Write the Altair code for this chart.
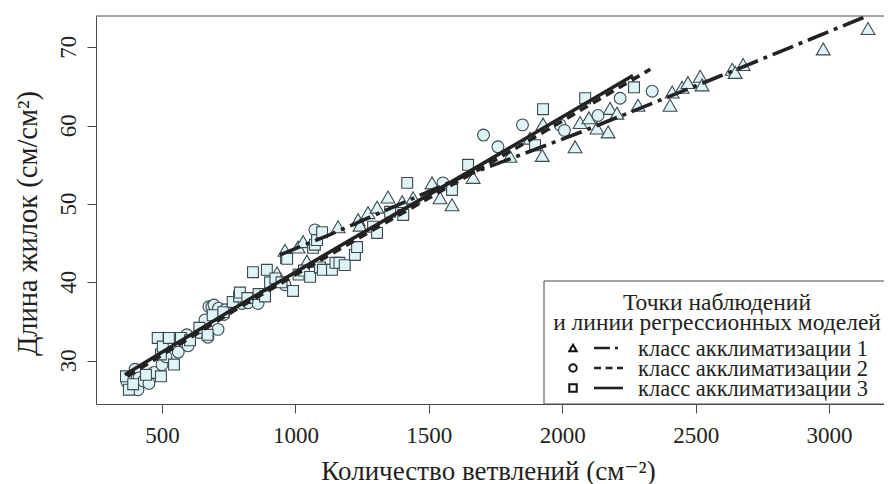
import altair as alt
import pandas as pd

# ---------------- data ----------------
# class 1 (triangles)
c1_x = [931, 961, 1010, 1029, 1043, 1160, 1235, 1242, 1272, 1306, 1347, 1400, 1441,
        1512, 1542, 1587, 1666, 1804, 1879, 1925, 1928, 2048, 2067, 2100, 2130, 2172,
        2179, 2205, 2284, 2404, 2412, 2449, 2471, 2517, 2524, 2637, 2648, 2678, 2978, 3146]
c1_y = [41.2, 44.1, 44.5, 45.2, 42.7, 47.1, 48.0, 47.3, 48.9, 49.6, 50.9, 50.3, 50.8,
        52.7, 50.8, 49.9, 53.4, 56.1, 58.4, 56.2, 60.2, 57.3, 60.4, 61.0, 59.7, 59.2,
        62.2, 61.6, 62.6, 62.6, 64.3, 64.9, 65.5, 66.3, 65.2, 67.2, 66.8, 67.8, 69.8, 72.4]

# class 2 (circles)
c2_x = [369, 399, 410, 414, 430, 448, 451, 470, 500, 515, 561, 593, 598, 640, 652, 661,
        672, 676, 687, 695, 710, 712, 732, 736, 800, 823, 860, 961, 1073, 1553, 1705,
        1759, 1851, 1992, 2008, 2134, 2217, 2337]
c2_y = [27.3, 28.9, 26.3, 27.8, 27.4, 28.0, 27.1, 28.5, 29.5, 30.5, 31.1, 33.3, 31.9,
        33.6, 34.2, 35.2, 33.0, 36.9, 36.9, 37.1, 34.0, 36.7, 35.9, 36.5, 37.3, 37.4,
        37.3, 39.7, 46.7, 52.7, 58.8, 57.3, 60.1, 60.1, 59.4, 61.3, 63.5, 64.4]

# class 3 (squares)
c3_x = [365, 376, 392, 440, 484, 496, 496, 503, 526, 545, 571, 605, 640, 671, 690, 730,
        765, 789, 792, 820, 841, 862, 886, 893, 905, 925, 948, 965, 969, 991, 1012, 1032,
        1055, 1066, 1073, 1081, 1092, 1100, 1103, 1137, 1150, 1165, 1185, 1223, 1231,
        1291, 1306, 1355, 1404, 1419, 1587, 1647, 1898, 1928, 2086, 2269]
c3_y = [28.0, 26.3, 27.0, 28.2, 32.9, 28.0, 30.8, 31.8, 32.9, 29.5, 32.9, 32.6, 34.2,
        33.3, 35.8, 36.2, 37.5, 38.2, 38.7, 38.0, 41.3, 38.5, 38.2, 41.6, 40.0, 40.5,
        40.0, 43.1, 43.0, 38.9, 41.0, 41.5, 40.7, 44.4, 44.8, 45.4, 41.9, 46.4, 41.6,
        41.6, 42.5, 42.5, 42.2, 43.5, 44.5, 47.1, 46.3, 49.0, 48.6, 52.7, 51.8, 55.0,
        57.5, 62.1, 63.5, 64.9]

# regression lines
l1_x = [942, 1130, 1628, 2056, 2655, 3135]
l1_y = [43.5, 46.1, 53.5, 59.0, 67.2, 73.9]
l2_x = [370, 800, 1250, 1800, 2330]
l2_y = [28.0, 37.0, 45.9, 56.6, 67.2]
l3_x = [361, 830, 1205, 1654, 2265]
l3_y = [28.2, 37.9, 45.4, 54.2, 66.4]

x_ticks = [500, 1000, 1500, 2000, 2500, 3000]
y_ticks = [30, 40, 50, 60, 70]

legend_title = ["Точки наблюдений", "и линии регрессионных моделей"]
legend_labels = ["класс акклиматизации 1", "класс акклиматизации 2", "класс акклиматизации 3"]

x_title = "Количество ветвлений (см⁻²)"
y_title = "Длина жилок (см/см²)"

# ---------------- style ----------------
FONT = "Liberation Serif, Times New Roman, Tinos, DejaVu Serif, serif"
TX = "#231f20"
AX = "#4a4a4a"
FILL = "#dff4f6"
PSTROKE = "#3c4a50"
LC = "#222222"
W, H = 788, 388

x_scale = alt.Scale(domain=[252.7, 3205.8], nice=False, zero=False)
y_scale = alt.Scale(domain=[24.47, 74.0], nice=False, zero=False)

x_axis = alt.Axis(values=x_ticks, format="d", tickSize=9, tickColor=AX, domainColor=AX,
                  tickWidth=1, domainWidth=1, labelFont=FONT, labelFontSize=23,
                  labelColor=TX, labelPadding=11, grid=False, labelFlush=False,
                  labelOverlap=False, title=x_title, titleFont=FONT, titleFontSize=27,
                  titleFontWeight="normal", titleColor=TX, titleX=392, titleY=75,
                  titleAlign="center", titleBaseline="alphabetic")
# y tick labels are drawn as a rotated text layer (see below)
y_axis = alt.Axis(values=y_ticks, tickSize=9, tickColor=AX, domainColor=AX,
                  tickWidth=1, domainWidth=1, labels=False, grid=False,
                  title=y_title, titleFont=FONT, titleFontSize=28.5,
                  titleFontWeight="normal", titleColor=TX, titleAngle=270,
                  titleX=-69, titleY=207, titleAlign="center", titleBaseline="middle")

X = alt.X("x:Q", scale=x_scale, axis=x_axis)
Y = alt.Y("y:Q", scale=y_scale, axis=y_axis)


def pts_layer(xs, ys, shape, size):
    df = pd.DataFrame({"x": xs, "y": ys})
    return alt.Chart(df).mark_point(shape=shape, size=size, filled=True, fill=FILL,
                                    stroke=PSTROKE, strokeWidth=1.1, opacity=1).encode(
        x=X, y=Y)


def line_layer(xs, ys, dash):
    df = pd.DataFrame({"x": xs, "y": ys})
    kw = dict(color=LC, strokeWidth=3.6)
    if dash:
        kw["strokeDash"] = dash
    return alt.Chart(df).mark_line(**kw).encode(x=X, y=Y)


one = pd.DataFrame({"a": [0]})

ylab_df = pd.DataFrame({"y": y_ticks, "lab": [str(v) for v in y_ticks]})

layers = [
    pts_layer(c1_x, c1_y, "triangle-up", 190),
    pts_layer(c2_x, c2_y, "circle", 140),
    pts_layer(c3_x, c3_y, "square", 118),
    line_layer(l1_x, l1_y, [22, 6, 4, 6]),
    line_layer(l2_x, l2_y, [9, 6]),
    line_layer(l3_x, l3_y, None),
    # rotated y tick labels
    alt.Chart(ylab_df).mark_text(font=FONT, fontSize=23, color=TX, angle=270,
                                 align="center", baseline="bottom").encode(
        y=Y, x=alt.value(-15), text="lab:N"),
    # top border of the plot box
    alt.Chart(one).mark_rule(color=AX, strokeWidth=1).encode(
        x=alt.value(0), x2=alt.value(W), y=alt.value(0)),
    # legend box
    alt.Chart(one).mark_rect(fill="white", stroke=AX, strokeWidth=1).encode(
        x=alt.value(448), x2=alt.value(W + 20), y=alt.value(265), y2=alt.value(388)),
]

# legend title lines
for i, t in enumerate(legend_title):
    layers.append(alt.Chart(pd.DataFrame({"t": [t]})).mark_text(
        font=FONT, fontSize=23.5, color=TX, align="center", baseline="alphabetic").encode(
        text="t:N", x=alt.value(621), y=alt.value(294 + 20 * i)))

leg_shapes = ["triangle-up", "circle", "square"]
leg_dash = [[16, 5, 3, 5], [7, 4.5], None]
for i, lab in enumerate(legend_labels):
    yc = 332 + 20 * i
    layers.append(alt.Chart(one).mark_point(shape=leg_shapes[i], size=55, filled=True,
                                            fill="white", stroke="#111", strokeWidth=2,
                                            opacity=1).encode(
        x=alt.value(477), y=alt.value(yc)))
    kw = dict(color=LC, strokeWidth=2.6)
    if leg_dash[i]:
        kw["strokeDash"] = leg_dash[i]
    layers.append(alt.Chart(one).mark_rule(**kw).encode(
        x=alt.value(498), x2=alt.value(527), y=alt.value(yc)))
    layers.append(alt.Chart(pd.DataFrame({"t": [lab]})).mark_text(
        font=FONT, fontSize=22.5, color=TX, align="left", baseline="alphabetic").encode(
        text="t:N", x=alt.value(542), y=alt.value(yc + 8)))

chart = alt.layer(*layers).properties(
    width=W, height=H,
    autosize=alt.AutoSizeParams(type="none"),
    padding={"left": 88, "top": 8, "right": 0, "bottom": 80},
).configure_view(stroke=None)

chart.save("out.html", embed_options={"renderer": "svg", "actions": False})
